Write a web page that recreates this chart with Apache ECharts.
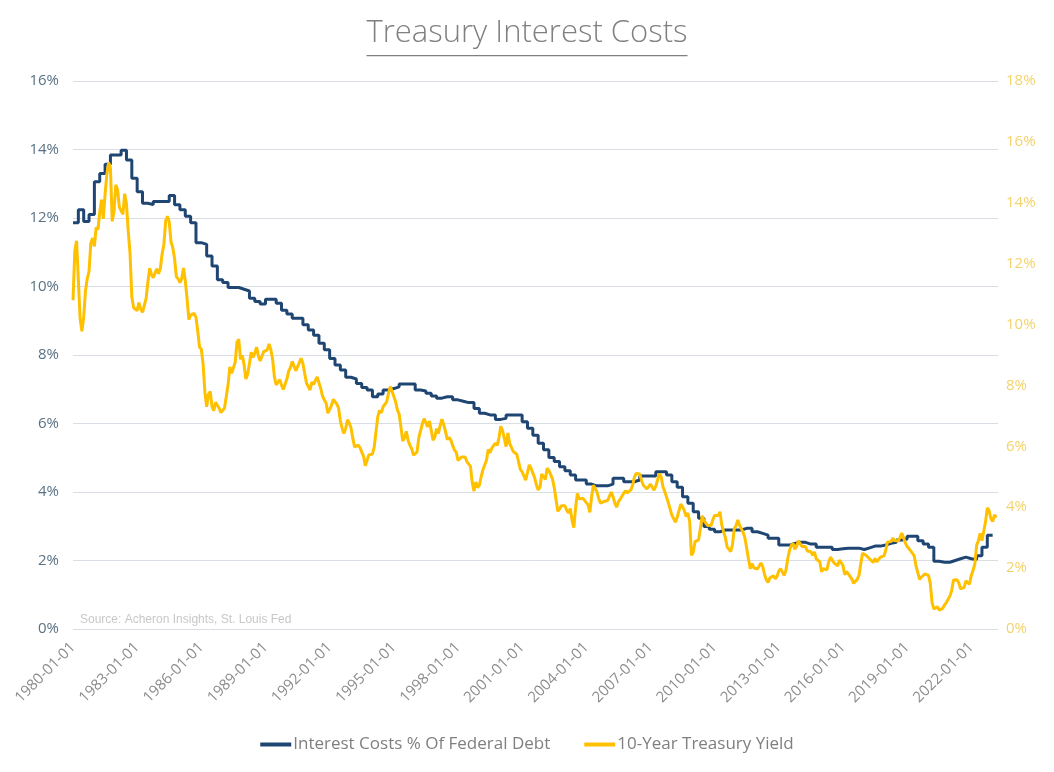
<!DOCTYPE html>
<html>
<head>
<meta charset="utf-8">
<script src="https://cdn.jsdelivr.net/npm/echarts@6/dist/echarts.min.js"></script>
<style>
html,body{margin:0;padding:0;background:#fff;}
#chart{width:1054px;height:772px;}
</style>
</head>
<body>
<div id="chart"></div>
<script>
// Monthly categories 1980-01-01 .. 2023-04-01
const startYear = 1980, monthCount = 520;
const categories = [];
for (let i = 0; i < monthCount; i++) {
  const y = startYear + Math.floor(i / 12), m = (i % 12) + 1;
  categories.push(y + '-' + (m < 10 ? '0' + m : m) + '-01');
}

// Interest costs % of federal debt, quarterly (1980Q1 .. 2023Q1)
const interestCostQ = [
  11.86, 12.24, 11.90, 12.10,
  13.06, 13.30, 13.57, 13.84,
  13.84, 13.98, 13.69, 13.16,
  12.77, 12.43, 12.39, 12.48,
  12.48, 12.48, 12.66, 12.39,
  12.24, 12.05, 11.86, 11.28,
  11.23, 10.89, 10.60, 10.20,
  10.12, 9.97, 9.97, 9.92,
  9.87, 9.66, 9.56, 9.49,
  9.63, 9.63, 9.51, 9.31,
  9.20, 9.07, 9.07, 8.88,
  8.73, 8.58, 8.34, 8.15,
  7.90, 7.71, 7.56, 7.35,
  7.30, 7.17, 7.05, 6.98,
  6.78, 6.86, 6.98, 7.02,
  7.07, 7.15, 7.15, 7.15,
  6.98, 6.95, 6.88, 6.80,
  6.74, 6.78, 6.78, 6.69,
  6.65, 6.61, 6.61, 6.44,
  6.30, 6.25, 6.25, 6.12,
  6.15, 6.25, 6.25, 6.25,
  6.05, 5.86, 5.66, 5.42,
  5.23, 5.01, 4.89, 4.74,
  4.62, 4.50, 4.35, 4.35,
  4.23, 4.18, 4.18, 4.18,
  4.23, 4.40, 4.40, 4.30,
  4.30, 4.35, 4.47, 4.47,
  4.47, 4.59, 4.59, 4.50,
  4.30, 4.14, 3.86, 3.67,
  3.42, 3.23, 2.99, 2.91,
  2.84, 2.89, 2.89, 2.89,
  2.89, 2.94, 2.94, 2.84,
  2.79, 2.74, 2.65, 2.65,
  2.45, 2.45, 2.50, 2.53,
  2.53, 2.48, 2.48, 2.39,
  2.39, 2.39, 2.32, 2.34,
  2.36, 2.36, 2.36, 2.32,
  2.37, 2.42, 2.42, 2.45,
  2.50, 2.53, 2.60, 2.63,
  2.71, 2.71, 2.58, 2.48,
  2.39, 1.98, 1.95, 1.95,
  2.00, 2.05, 2.10, 2.05,
  2.03, 2.14, 2.39, 2.74,
  2.74
];

// 10-Year Treasury yield, monthly (1980-01 .. 2023-03)
const treasuryYield = [
  10.80, 12.41, 12.75, 11.47, 10.18, 9.78, 10.25, 11.10, 11.51, 11.75, 12.68, 12.84,
  12.57, 13.19, 13.12, 13.68, 14.10, 13.47, 14.28, 14.94, 15.32, 15.15, 13.39, 13.72,
  14.59, 14.43, 13.86, 13.87, 13.62, 14.30, 13.95, 13.06, 12.34, 10.91, 10.55, 10.54,
  10.46, 10.72, 10.51, 10.40, 10.38, 10.85, 11.38, 11.85, 11.65, 11.54, 11.69, 11.83,
  11.67, 11.84, 12.32, 12.63, 13.41, 13.56, 13.36, 12.72, 12.52, 12.16, 11.57, 11.50,
  11.38, 11.51, 11.86, 11.43, 10.85, 10.16, 10.31, 10.33, 10.37, 10.24, 9.78, 9.26,
  9.19, 8.70, 7.78, 7.30, 7.71, 7.80, 7.30, 7.17, 7.45, 7.43, 7.25, 7.11,
  7.08, 7.25, 7.25, 8.02, 8.61, 8.40, 8.45, 8.76, 9.42, 9.52, 8.86, 8.99,
  8.67, 8.21, 8.37, 8.72, 9.09, 8.92, 9.06, 9.26, 8.98, 8.80, 8.96, 9.11,
  9.09, 9.17, 9.36, 9.18, 8.86, 8.28, 8.02, 8.11, 8.19, 8.01, 7.87, 7.84,
  8.21, 8.47, 8.59, 8.79, 8.76, 8.48, 8.47, 8.75, 8.89, 8.72, 8.39, 8.08,
  8.09, 7.85, 8.11, 8.04, 8.07, 8.28, 8.27, 7.90, 7.65, 7.53, 7.42, 7.09,
  7.03, 7.34, 7.54, 7.48, 7.39, 7.26, 6.84, 6.59, 6.42, 6.59, 6.87, 6.77,
  6.60, 6.26, 5.98, 5.97, 6.04, 5.96, 5.81, 5.68, 5.36, 5.33, 5.72, 5.77,
  5.75, 5.97, 6.48, 6.97, 7.18, 7.10, 7.30, 7.24, 7.46, 7.74, 7.96, 7.81,
  7.78, 7.47, 7.20, 7.06, 6.63, 6.17, 6.28, 6.49, 6.20, 6.04, 5.93, 5.71,
  5.65, 5.81, 6.27, 6.51, 6.74, 6.91, 6.87, 6.64, 6.83, 6.53, 6.20, 6.30,
  6.58, 6.42, 6.69, 6.89, 6.71, 6.49, 6.22, 6.30, 6.21, 6.03, 5.88, 5.81,
  5.54, 5.57, 5.65, 5.64, 5.65, 5.50, 5.46, 5.34, 4.81, 4.53, 4.83, 4.65,
  4.72, 5.00, 5.23, 5.18, 5.54, 5.90, 5.79, 5.94, 5.92, 6.11, 6.03, 6.28,
  6.66, 6.52, 6.26, 5.99, 6.44, 6.10, 6.05, 5.83, 5.80, 5.74, 5.72, 5.24,
  5.16, 5.10, 4.89, 5.14, 5.39, 5.28, 5.24, 4.97, 4.73, 4.57, 4.65, 5.09,
  5.04, 4.91, 5.28, 5.21, 5.16, 4.93, 4.65, 4.26, 3.87, 3.94, 4.05, 4.03,
  4.05, 3.90, 3.81, 3.96, 3.57, 3.33, 3.98, 4.45, 4.27, 4.29, 4.30, 4.27,
  4.15, 4.08, 3.83, 4.35, 4.72, 4.73, 4.50, 4.28, 4.13, 4.10, 4.19, 4.23,
  4.22, 4.17, 4.50, 4.34, 4.14, 4.00, 4.18, 4.26, 4.20, 4.46, 4.54, 4.47,
  4.42, 4.57, 4.72, 4.99, 5.11, 5.11, 5.09, 4.88, 4.72, 4.73, 4.60, 4.56,
  4.76, 4.72, 4.56, 4.69, 4.75, 5.10, 5.00, 4.67, 4.52, 4.53, 4.15, 4.10,
  3.74, 3.74, 3.51, 3.68, 3.88, 4.10, 4.01, 3.89, 3.69, 3.81, 3.53, 2.42,
  2.52, 2.87, 2.82, 2.93, 3.29, 3.72, 3.56, 3.59, 3.40, 3.39, 3.40, 3.59,
  3.73, 3.69, 3.73, 3.85, 3.42, 3.20, 3.01, 2.70, 2.65, 2.54, 2.76, 3.29,
  3.39, 3.58, 3.41, 3.46, 3.17, 3.00, 3.00, 2.30, 1.98, 2.15, 2.01, 1.98,
  1.97, 1.97, 2.17, 2.05, 1.80, 1.62, 1.53, 1.68, 1.72, 1.75, 1.65, 1.72,
  1.91, 1.98, 1.96, 1.76, 1.93, 2.30, 2.58, 2.74, 2.81, 2.62, 2.72, 2.90,
  2.86, 2.71, 2.72, 2.71, 2.56, 2.60, 2.54, 2.42, 2.53, 2.30, 2.33, 2.21,
  1.88, 1.98, 2.04, 1.94, 2.20, 2.36, 2.32, 2.17, 2.17, 2.07, 2.26, 2.24,
  2.09, 1.78, 1.89, 1.81, 1.81, 1.64, 1.50, 1.56, 1.63, 1.76, 2.14, 2.49,
  2.43, 2.42, 2.48, 2.30, 2.30, 2.19, 2.32, 2.21, 2.20, 2.36, 2.35, 2.40,
  2.58, 2.86, 2.84, 2.87, 2.98, 2.91, 2.89, 2.89, 3.00, 3.15, 3.12, 2.83,
  2.71, 2.68, 2.57, 2.53, 2.40, 2.07, 2.06, 1.63, 1.70, 1.71, 1.81, 1.86,
  1.76, 1.50, 0.87, 0.66, 0.67, 0.73, 0.62, 0.65, 0.68, 0.79, 0.87, 0.93,
  1.08, 1.26, 1.61, 1.64, 1.62, 1.52, 1.32, 1.28, 1.37, 1.58, 1.56, 1.47,
  1.76, 1.93, 2.13, 2.75, 2.90, 3.14, 2.90, 2.90, 3.52, 3.98, 3.89, 3.62,
  3.53, 3.75, 3.66
];

const titleText = 'Treasury Interest Costs';
const sourceText = 'Source: Acheron Insights, St. Louis Fed';
const seriesNames = ['Interest Costs % Of Federal Debt', '10-Year Treasury Yield'];

const interestData = interestCostQ.map((v, i) => [categories[i * 3], v]);

const titleFont = '300 31px "Open Sans"';
const cv = document.createElement('canvas').getContext('2d');
cv.font = titleFont;
const titleW = cv.measureText(titleText).width;
const chartW = 1054;

const chart = echarts.init(document.getElementById('chart'), null, {renderer: 'canvas'});
chart.setOption({
  backgroundColor: '#ffffff',
  animation: false,
  grid: {left: 73, right: 56, top: 81, bottom: 143, containLabel: false},
  graphic: [
    {type: 'text', left: 'center', top: 18,
     style: {text: titleText, font: titleFont, fill: '#808080'}},
    {type: 'rect', shape: {x: (chartW - titleW) / 2, y: 55, width: titleW, height: 1.3},
     style: {fill: '#808080'}},
    {type: 'text', left: 80, top: 614,
     style: {text: sourceText, font: '12px "Liberation Sans", Arial', fill: '#c8c8c8'}}
  ],
  legend: {
    bottom: 14, left: 'center', itemWidth: 31, itemHeight: 4, itemGap: 34, icon: 'rect',
    textStyle: {color: '#7f7f7f', fontSize: 17, fontFamily: 'Open Sans', padding: [0, 0, 0, -3]},
    data: seriesNames
  },
  xAxis: {
    type: 'category', boundaryGap: false, data: categories,
    axisLine: {show: false}, axisTick: {show: false},
    axisLabel: {interval: 35, rotate: 45, color: '#8c8c8c', fontSize: 15, fontFamily: 'Open Sans', margin: 16},
    splitLine: {show: false}
  },
  yAxis: [
    {type: 'value', min: 0, max: 16, interval: 2, position: 'left',
     axisLine: {show: false}, axisTick: {show: false},
     axisLabel: {formatter: '{value}%', color: '#5a7284', fontSize: 15, fontFamily: 'Open Sans', margin: 14},
     splitLine: {show: true, lineStyle: {color: '#d9dee4', width: 1}}},
    {type: 'value', min: 0, max: 18, interval: 2, position: 'right',
     axisLine: {show: false}, axisTick: {show: false},
     axisLabel: {formatter: '{value}%', color: '#f3d36b', fontSize: 15, fontFamily: 'Open Sans', margin: 8},
     splitLine: {show: false}}
  ],
  series: [
    {name: seriesNames[0], type: 'line', yAxisIndex: 0, step: 'end', data: interestData,
     showSymbol: false, symbol: 'none', color: '#1f4673', lineStyle: {width: 3, color: '#1f4673'}},
    {name: seriesNames[1], type: 'line', yAxisIndex: 1, data: treasuryYield,
     showSymbol: false, symbol: 'none', color: '#ffc000', lineStyle: {width: 3, color: '#ffc000'}}
  ]
});
</script>
</body>
</html>
